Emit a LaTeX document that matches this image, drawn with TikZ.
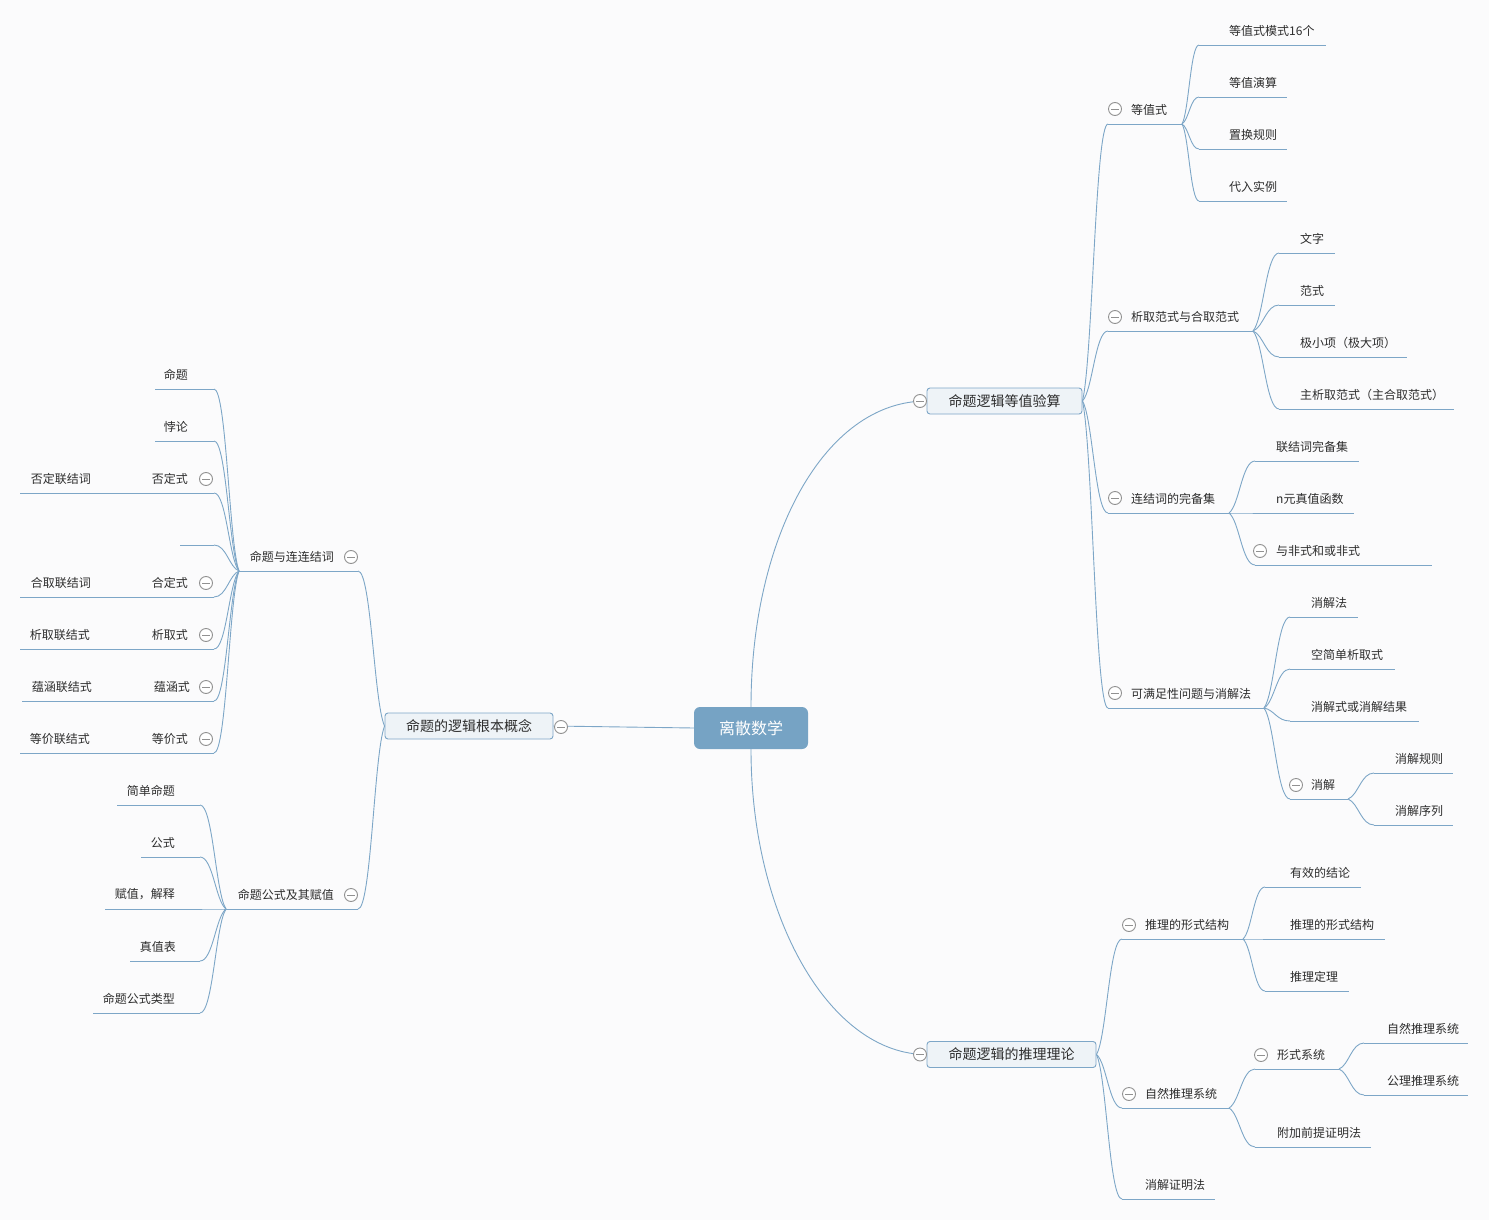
\documentclass[tikz,border=0pt]{standalone}
\usepackage{fontspec}
\setmainfont{Noto Sans CJK SC}
\usetikzlibrary{calc}
\definecolor{bg}{RGB}{251,251,252}
\definecolor{lineblue}{RGB}{125,166,199}
\definecolor{rootfill}{RGB}{118,163,196}
\definecolor{boxfill}{RGB}{238,243,247}
\definecolor{txt}{RGB}{45,45,45}
\definecolor{cgray}{RGB}{145,145,145}
\newcommand\rtopic[6]{%
  \node[lbl, anchor=west] (#1) at (#2,#3-14.5) {#6};
  \coordinate (#1-l) at (#4,#3);
  \coordinate (#1-r) at (#5,#3);
  \draw[uline] (#1-l) -- (#1-r);}
\newcommand\ltopic[6]{%
  \node[lbl, anchor=east] (#1) at (#2,#3-14.5) {#6};
  \coordinate (#1-l) at (#4,#3);
  \coordinate (#1-r) at (#5,#3);
  \draw[uline] (#1-l) -- (#1-r);}
\tikzset{
  lbl/.style={font=\fontsize{12}{14}\selectfont, text=txt, inner sep=0pt},
  uline/.style={draw=lineblue, line width=0.9pt},
  conn/.style={draw=lineblue, line width=0.9pt,
    to path={let \p1=(\tikztostart), \p2=(\tikztotarget) in
      .. controls ({\x1+0.4*(\x2-\x1)},{\y1+0.15*(\y2-\y1)}) and ({\x1+0.5*(\x2-\x1)},\y2) .. (\tikztotarget)}},
  coll/.style={circle, draw=cgray, fill=white, line width=0.9pt, minimum size=13pt, inner sep=0pt,
    path picture={\draw[cgray, line width=0.9pt] ([xshift=-4pt]path picture bounding box.center) -- ([xshift=4pt]path picture bounding box.center);}},
  mainbox/.style={draw=lineblue, fill=boxfill, rounded corners=3pt, minimum height=26pt, inner sep=0pt,
    font=\fontsize{14}{16}\selectfont, text=txt, line width=0.9pt},
  rootbox/.style={fill=rootfill, rounded corners=6pt, minimum width=114pt, minimum height=42pt, inner sep=0pt,
    font=\fontsize{16}{19}\selectfont, text=white},
}
\begin{document}
\begin{tikzpicture}[x=1pt,y=-1pt]
\fill[bg] (0,0) rectangle (1489,1220);
\useasboundingbox (0,0) rectangle (1489,1220);

% main nodes
\node[rootbox] (root) at (751,728) {离散数学};
\node[mainbox, minimum width=168pt] (L) at (469,726) {命题的逻辑根本概念};
\node[mainbox, minimum width=155pt] (B1) at (1004.5,401) {命题逻辑等值验算};
\node[mainbox, minimum width=169pt] (B2) at (1011.5,1054.5) {命题逻辑的推理理论};

% ---------- right branch 1 ----------
\rtopic{dz}{1131}{124}{1108}{1182}{等值式}
\rtopic{dz1}{1229}{45}{1199}{1326}{等值式模式16个}
\rtopic{dz2}{1229}{97}{1199}{1287}{等值演算}
\rtopic{dz3}{1229}{149}{1199}{1287}{置换规则}
\rtopic{dz4}{1229}{201}{1199}{1287}{代入实例}

\rtopic{xq}{1131}{331}{1108}{1253}{析取范式与合取范式}
\rtopic{xq1}{1300}{253}{1279}{1335}{文字}
\rtopic{xq2}{1300}{305}{1279}{1335}{范式}
\rtopic{xq3}{1300}{357}{1279}{1407}{极小项（极大项）}
\rtopic{xq4}{1300}{409}{1279}{1454}{主析取范式（主合取范式）}

\rtopic{lj}{1131}{513}{1108}{1229}{连结词的完备集}
\rtopic{lj1}{1276}{461}{1255}{1359}{联结词完备集}
\rtopic{lj2}{1276}{513}{1255}{1354}{n元真值函数}
\rtopic{lj3}{1276}{565}{1255}{1432}{与非式和或非式}

\rtopic{km}{1131}{708}{1108}{1264}{可满足性问题与消解法}
\rtopic{km1}{1311}{617}{1290}{1358}{消解法}
\rtopic{km2}{1311}{669}{1290}{1395}{空简单析取式}
\rtopic{km3}{1311}{721}{1290}{1419}{消解式或消解结果}
\rtopic{km4}{1311}{799}{1290}{1348}{消解}
\rtopic{km41}{1395}{773}{1374}{1453}{消解规则}
\rtopic{km42}{1395}{825}{1374}{1453}{消解序列}

% ---------- right branch 2 ----------
\rtopic{tl}{1145}{939}{1122}{1243}{推理的形式结构}
\rtopic{tl1}{1290}{887}{1265}{1361}{有效的结论}
\rtopic{tl2}{1290}{939}{1265}{1385}{推理的形式结构}
\rtopic{tl3}{1290}{991}{1265}{1349}{推理定理}

\rtopic{zr}{1145}{1108}{1122}{1229}{自然推理系统}
\rtopic{xs}{1277}{1069}{1255}{1339}{形式系统}
\rtopic{xs1}{1387}{1043}{1364}{1468}{自然推理系统}
\rtopic{xs2}{1387}{1095}{1364}{1468}{公理推理系统}
\rtopic{zr2}{1277}{1147}{1255}{1371}{附加前提证明法}

\rtopic{xj}{1145}{1199}{1122}{1215}{消解证明法}

% ---------- left branch ----------
\ltopic{mt}{334}{571}{239}{358}{命题与连连结词}
\ltopic{mt1}{188}{389}{155}{214}{命题}
\ltopic{mt2}{188}{441}{155}{214}{悖论}
\ltopic{mt3}{188}{493}{145}{214}{否定式}
\ltopic{mt31}{91}{493}{20}{125}{否定联结词}
\ltopic{mt4}{188}{545}{180}{214}{}
\ltopic{mt5}{188}{597}{145}{214}{合定式}
\ltopic{mt51}{91}{597}{20}{125}{合取联结词}
\ltopic{mt6}{188}{649}{145}{214}{析取式}
\ltopic{mt61}{90}{649}{20}{125}{析取联结式}
\ltopic{mt7}{190}{701}{145}{214}{蕴涵式}
\ltopic{mt71}{92}{701}{22}{125}{蕴涵联结式}
\ltopic{mt8}{188}{753}{145}{214}{等价式}
\ltopic{mt81}{90}{753}{20}{125}{等价联结式}

\ltopic{gs}{334}{909}{226}{358}{命题公式及其赋值}
\ltopic{gs1}{175}{805}{117}{200}{简单命题}
\ltopic{gs2}{175}{857}{141}{200}{公式}
\ltopic{gs3}{175}{909}{105}{200}{赋值，解释}
\ltopic{gs4}{176}{961}{130}{200}{真值表}
\ltopic{gs5}{175}{1013}{93}{200}{命题公式类型}

% ---------- connectors ----------
\draw[uline] (L.east) -- (root.west);
\draw[uline] (root.north) .. controls (751,538) and (824,401) .. (B1.west);
\draw[uline] (root.south) .. controls (751,917) and (830,1054.5) .. (B2.west);

\draw[conn] (B1.east) to (dz-l);
\draw[conn] (B1.east) to (xq-l);
\draw[conn] (B1.east) to (lj-l);
\draw[conn] (B1.east) to (km-l);
\draw[conn] (dz-r) to (dz1-l);
\draw[conn] (dz-r) to (dz2-l);
\draw[conn] (dz-r) to (dz3-l);
\draw[conn] (dz-r) to (dz4-l);
\draw[conn] (xq-r) to (xq1-l);
\draw[conn] (xq-r) to (xq2-l);
\draw[conn] (xq-r) to (xq3-l);
\draw[conn] (xq-r) to (xq4-l);
\draw[conn] (lj-r) to (lj1-l);
\draw[conn] (lj-r) to (lj2-l);
\draw[conn] (lj-r) to (lj3-l);
\draw[conn] (km-r) to (km1-l);
\draw[conn] (km-r) to (km2-l);
\draw[conn] (km-r) to (km3-l);
\draw[conn] (km-r) to (km4-l);
\draw[conn] (km4-r) to (km41-l);
\draw[conn] (km4-r) to (km42-l);

\draw[conn] (B2.east) to (tl-l);
\draw[conn] (B2.east) to (zr-l);
\draw[conn] (B2.east) to (xj-l);
\draw[conn] (tl-r) to (tl1-l);
\draw[conn] (tl-r) to (tl2-l);
\draw[conn] (tl-r) to (tl3-l);
\draw[conn] (zr-r) to (xs-l);
\draw[conn] (zr-r) to (zr2-l);
\draw[conn] (xs-r) to (xs1-l);
\draw[conn] (xs-r) to (xs2-l);

\draw[conn] (L.west) to (mt-r);
\draw[conn] (L.west) to (gs-r);
\draw[conn] (mt-l) to (mt1-r);
\draw[conn] (mt-l) to (mt2-r);
\draw[conn] (mt-l) to (mt3-r);
\draw[conn] (mt-l) to (mt4-r);
\draw[conn] (mt-l) to (mt5-r);
\draw[conn] (mt-l) to (mt6-r);
\draw[conn] (mt-l) to (mt7-r);
\draw[conn] (mt-l) to (mt8-r);
\draw[uline] (mt3-l) -- (mt31-r);
\draw[uline] (mt5-l) -- (mt51-r);
\draw[uline] (mt6-l) -- (mt61-r);
\draw[uline] (mt7-l) -- (mt71-r);
\draw[uline] (mt8-l) -- (mt81-r);
\draw[conn] (gs-l) to (gs1-r);
\draw[conn] (gs-l) to (gs2-r);
\draw[conn] (gs-l) to (gs3-r);
\draw[conn] (gs-l) to (gs4-r);
\draw[conn] (gs-l) to (gs5-r);

% ---------- collapse markers ----------
\node[coll] (cL) at (561,727) {};
\node[coll] (cB1) at (920,401) {};
\node[coll] (cB2) at (920,1054.5) {};
\node[coll] (cdz) at (1115,109) {};
\node[coll] (cxq) at (1115,317) {};
\node[coll] (clj) at (1115,498) {};
\node[coll] (clj3) at (1260,551) {};
\node[coll] (ckm) at (1115,693) {};
\node[coll] (ckm4) at (1296,785) {};
\node[coll] (ctl) at (1129,925) {};
\node[coll] (czr) at (1129,1094) {};
\node[coll] (cxs) at (1261,1055) {};
\node[coll] (cmt) at (351,557) {};
\node[coll] (cmt3) at (206,479) {};
\node[coll] (cmt5) at (206,583) {};
\node[coll] (cmt6) at (206,635) {};
\node[coll] (cmt7) at (206,687) {};
\node[coll] (cmt8) at (206,739) {};
\node[coll] (cgs) at (351,895) {};
\end{tikzpicture}
\end{document}
